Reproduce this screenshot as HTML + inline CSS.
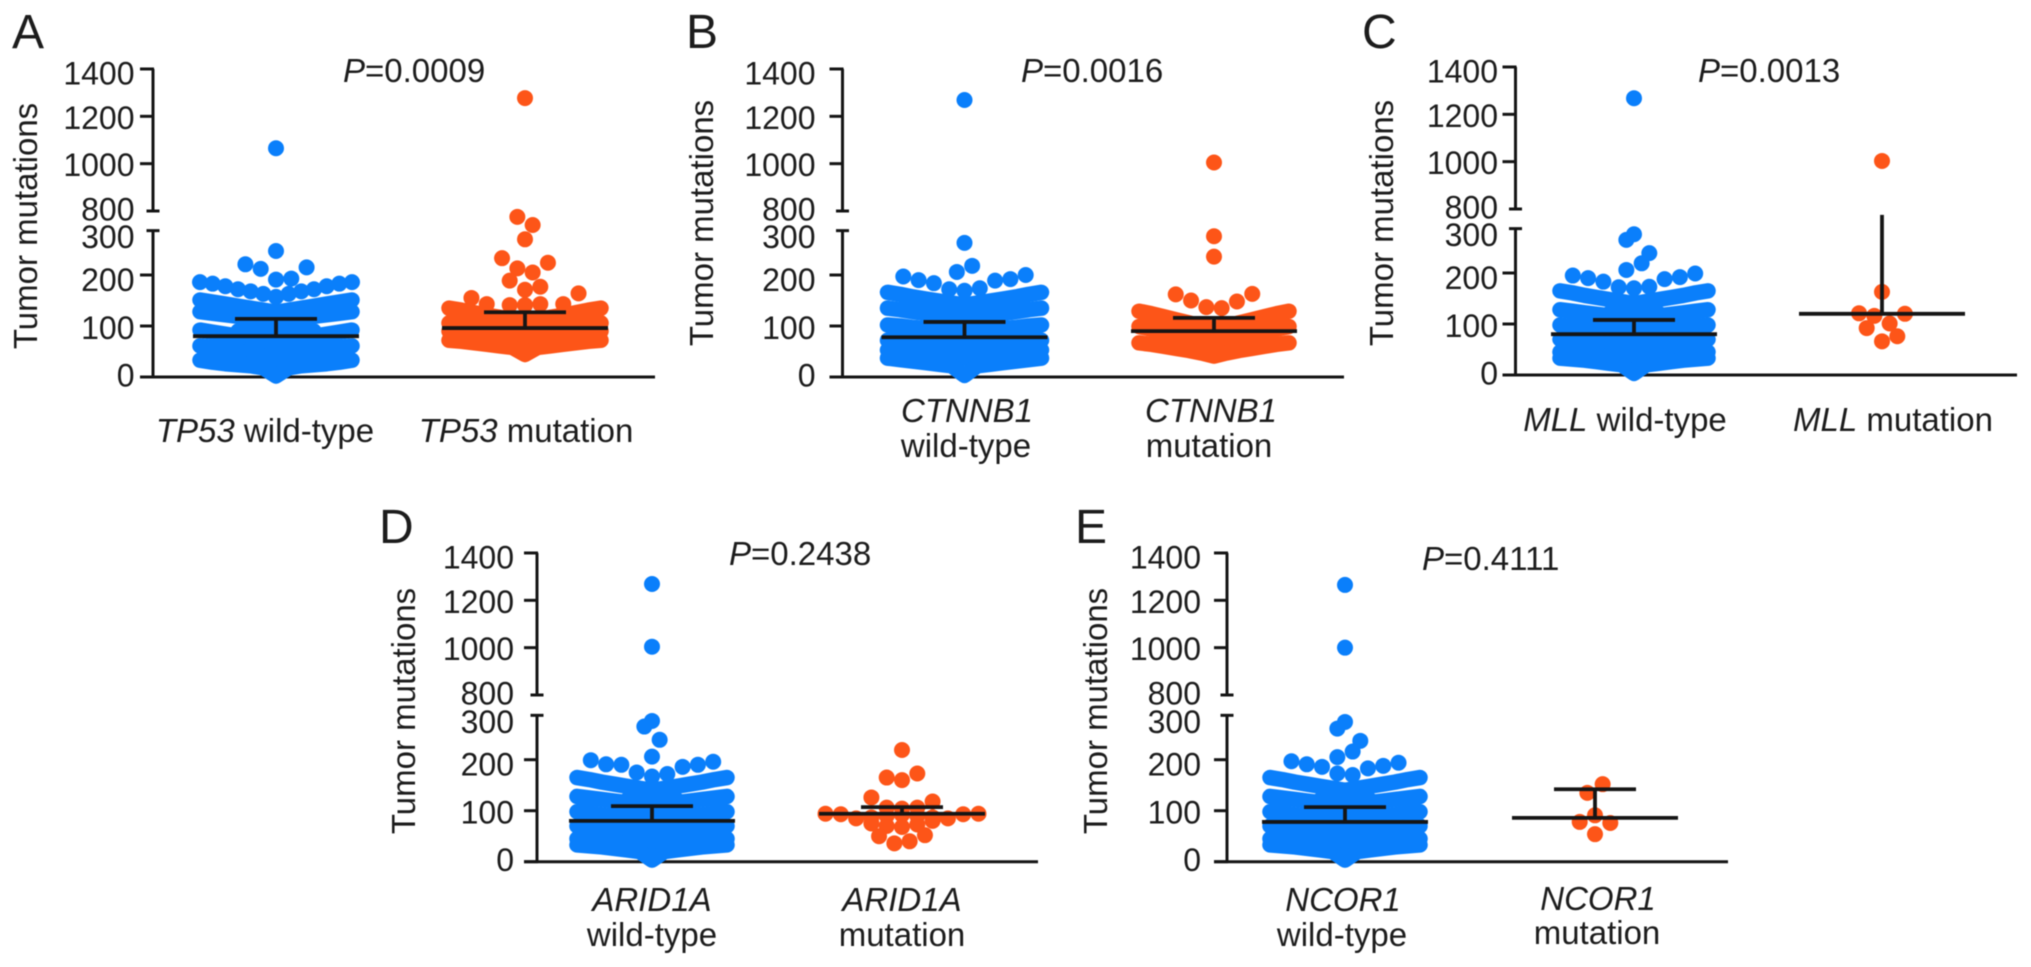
<!DOCTYPE html>
<html lang="en">
<head>
<meta charset="utf-8">
<title>Tumor mutations by gene mutation status</title>
<style>
html,body{margin:0;padding:0;background:#fff;width:2031px;height:967px;overflow:hidden}
svg{display:block;filter:blur(.45px)}
text{font-family:"Liberation Sans",Arial,sans-serif;fill:#1c1c1c}
.lbl{font-size:33px}
.tick{font-size:32px}
.letter{font-size:48px}
</style>
</head>
<body>
<svg id="figure" width="2031" height="967" viewBox="0 0 2031 967" xmlns="http://www.w3.org/2000/svg">
  <rect x="0" y="0" width="2031" height="967" fill="#fff"/>

  <g>
    <text class="letter" x="12" y="48">A</text>
    <text class="lbl" x="343" y="82"><tspan font-style="italic">P</tspan>=0.0009</text>
    <text class="lbl" transform="translate(37,226) rotate(-90)" text-anchor="middle">Tumor mutations</text>
    <text class="lbl" x="265" y="442" text-anchor="middle"><tspan font-style="italic">TP53</tspan> wild-type</text>
    <text class="lbl" x="526" y="442" text-anchor="middle"><tspan font-style="italic">TP53</tspan> mutation</text>
  </g>

  <g>
    <text class="letter" x="686" y="48">B</text>
    <text class="lbl" x="1021" y="82"><tspan font-style="italic">P</tspan>=0.0016</text>
    <text class="lbl" transform="translate(713,223) rotate(-90)" text-anchor="middle">Tumor mutations</text>
    <text class="lbl" x="967" y="422" text-anchor="middle" font-style="italic">CTNNB1</text>
    <text class="lbl" x="966" y="457" text-anchor="middle">wild-type</text>
    <text class="lbl" x="1211" y="422" text-anchor="middle" font-style="italic">CTNNB1</text>
    <text class="lbl" x="1209" y="457" text-anchor="middle">mutation</text>
  </g>

  <g>
    <text class="letter" x="1362" y="48">C</text>
    <text class="lbl" x="1698" y="82"><tspan font-style="italic">P</tspan>=0.0013</text>
    <text class="lbl" transform="translate(1393,223) rotate(-90)" text-anchor="middle">Tumor mutations</text>
    <text class="lbl" x="1625" y="431" text-anchor="middle"><tspan font-style="italic">MLL</tspan> wild-type</text>
    <text class="lbl" x="1893" y="431" text-anchor="middle"><tspan font-style="italic">MLL</tspan> mutation</text>
  </g>

  <g>
    <text class="letter" x="379" y="543">D</text>
    <text class="lbl" x="729" y="565"><tspan font-style="italic">P</tspan>=0.2438</text>
    <text class="lbl" transform="translate(415,711) rotate(-90)" text-anchor="middle">Tumor mutations</text>
    <text class="lbl" x="652" y="911" text-anchor="middle" font-style="italic">ARID1A</text>
    <text class="lbl" x="652" y="946" text-anchor="middle">wild-type</text>
    <text class="lbl" x="902" y="911" text-anchor="middle" font-style="italic">ARID1A</text>
    <text class="lbl" x="902" y="946" text-anchor="middle">mutation</text>
  </g>

  <g>
    <text class="letter" x="1075" y="543">E</text>
    <text class="lbl" x="1422" y="570"><tspan font-style="italic">P</tspan>=0.4111</text>
    <text class="lbl" transform="translate(1107,711) rotate(-90)" text-anchor="middle">Tumor mutations</text>
    <text class="lbl" x="1343" y="911" text-anchor="middle" font-style="italic">NCOR1</text>
    <text class="lbl" x="1342" y="946" text-anchor="middle">wild-type</text>
    <text class="lbl" x="1598" y="910" text-anchor="middle" font-style="italic">NCOR1</text>
    <text class="lbl" x="1597" y="944" text-anchor="middle">mutation</text>
  </g>
</svg>

<script>
/* ---------- tick labels ---------- */
const upperTicks = [800, 1000, 1200, 1400];
const lowerTicks = [0, 100, 200, 300];

/* ---------- values: each "mass" row runs centre -> edge of the swarm and is mirrored;
   each "loose" row is read left to right (null = empty swarm slot);
   "high" values are the outliers above the axis break ---------- */

/* Panel A - TP53 */
const aWildHigh = [1065];
const aWildLoose = [[247], [221, 212, null, null, 215], [null, 191, 193]];
const aWildDotRows = [[157, 163, 168, 172, 178, 183, 186]];
const aWildMass = [
  [127, 131, 135, 139, 143, 147, 151],
  [110, 113, 116, 119, 122, 125, 128],
  [96, 94, 92, 90],
  [64, 70, 75, 80, 84, 88, 92],
  [52, 54, 56],
  [36, 41, 46, 50, 54, 58, 61],
  [20, 24, 27],
  [2, 18, 22, 24, 26, 29, 33]
];
const aWildMean = 80;
const aWildUpper = 114;

const aMutHigh = [1277];
const aMutLoose = [
  [270], [314, 298], [233, 213, 205, 224], [189, null, null], [null, 171, 177],
  [155, null, null, null, null, null, null, 164],
  [143, null, null, null, null, 143], [141, 141, 143]
];
const aMutMass = [
  [110, 113, 117, 121, 126, 131, 135],
  [84, 88, 92, 96, 100, 103, 106],
  [67, 71, 75, 79, 83, 87, 90],
  [44, 58, 61, 64, 67, 70, 72]
];
const aMutMean = 96;
const aMutUpper = 127;

/* Panel B - CTNNB1 */
const bWildHigh = [1269];
const bWildLoose = [[263], [206, 218], [197, 190, 184, 172, 169, 174, 189, 192, 200]];
const bWildMass = [
  [141, 145, 149, 153, 157, 162, 166],
  [114, 118, 121, 125, 128, 132, 135],
  [88, 90, 93, 95, 97, 100, 102],
  [63, 65, 67, 69, 70, 71, 72],
  [37, 40, 43, 46, 49, 51, 53],
  [3, 22, 25, 28, 31, 34, 37]
];
const bWildMean = 78;
const bWildUpper = 108;

const bMutHigh = [1005];
const bMutLoose = [[276], [236], [162, 150, 137, 135, 148, 163]];
const bMutMass = [
  [96, 100, 106, 112, 118, 124, 129],
  [69, 74, 79, 84, 89, 94, 99],
  [58, 60, 62],
  [41, 47, 52, 56, 60, 64, 67]
];
const bMutMean = 90;
const bMutUpper = 116;

/* Panel C - MLL */
const cWildHigh = [1268];
const cWildLoose = [[276], [265, null], [null, null, 239], [206, 219], [195, 190, 183, 172, 170, 173, 188, 192, 199]];
const cWildMean = 80;
const cWildUpper = 108;

const cMutHigh = [1003];
const cMutLoose = [[163], [121, 116, null, 120], [92, null, null], [null, 101], [null, null, 76], [66]];
const cMutMean = 120;
const cMutUpper = 314;

/* Panel D - ARID1A */
const dWildHigh = [1269, 1004];
const dWildLoose = [[276], [265, null], [null, 239], [206], [199, 191, 190, 175, 167, 172, 186, 190, 196]];
const dWildMean = 80;
const dWildUpper = 109;

const dMutLoose = [
  [219], [165, 160, 173], [126, null, null, null, 118], [106, 104, 106],
  [94, 93, 85, 87, 90, 92, 90, 87, 85, 93, 94],
  [75, 70, 68, 73, 80], [50, null, null, 52], [36, 40]
];
const dMutMean = 94;
const dMutUpper = 107;

/* Panel E - NCOR1 */
const eWildHigh = [1265, 1000];
const eWildLoose = [[274], [261, null], [null, null, 237], [205, 216], [197, 191, 186, 173, 170, 183, 188, 194]];
const eWildMean = 78;
const eWildUpper = 107;

const eMutLoose = [[135, 152], [91], [78, null, 76], [54]];
const eMutMean = 86;
const eMutUpper = 142;

/* Wild-type swarm body shared by panels C, D and E */
const sharedWildMass = [
  [140, 144, 148, 152, 156, 161, 165],
  [125, 123, 121],
  [110, 113, 116, 119, 122, 125, 128],
  [95, 93, 91],
  [80, 83, 86, 89, 92, 95, 98],
  [67, 66, 65],
  [55, 57, 60, 62, 65, 68, 70],
  [42, 41, 40],
  [30, 33, 35, 37, 40, 42, 45],
  [3, 20, 23, 26, 29, 31, 33]
];

/* ---------- geometry (not data) ---------- */
const BLUE = '#0a7ffb';
const ORANGE = '#fd5518';
const INK = '#151515';
const SVGNS = 'http://www.w3.org/2000/svg';
const fig = document.getElementById('figure');
const DOT_R = 8;
const BAND_W = 15.5;
const SLOT = 15.3;
const LOW_SCALE = 0.51;
const UP_SCALE = 0.2367;
const CAP_VALUE = 287;

function make(tag, parent) {
  const el = document.createElementNS(SVGNS, tag);
  parent.appendChild(el);
  return el;
}
function yScale(p, v) {
  return v >= 600 ? p.y800 - (v - 800) * UP_SCALE : p.y0 - v * LOW_SCALE;
}
function tickY(p, v) {
  return v === 300 ? yScale(p, CAP_VALUE) : yScale(p, v);
}
function labelShift(v) {
  if (v === 1400) return 4;
  if (v === 800 || v === 0) return -2;
  if (v === 300) return 6;
  if (v === 200) return 4.5;
  if (v === 100) return 1.5;
  return 1;
}
function line(g, x1, y1, x2, y2, w) {
  const l = make('line', g);
  l.setAttribute('x1', x1);
  l.setAttribute('y1', y1);
  l.setAttribute('x2', x2);
  l.setAttribute('y2', y2);
  l.setAttribute('stroke', INK);
  l.setAttribute('stroke-width', w);
  return l;
}
function dot(g, x, y, color) {
  const c = make('circle', g);
  c.setAttribute('cx', x);
  c.setAttribute('cy', y);
  c.setAttribute('r', DOT_R);
  c.setAttribute('fill', color);
  return c;
}

function drawAxes(p) {
  const g = make('g', fig);
  
  
  const spine = line(g, p.ax, yScale(p, 1400), p.ax, yScale(p, 800), 3);
  
  
  const spineLow = line(g, p.ax, yScale(p, CAP_VALUE), p.ax, p.y0, 3);
  
  
  const xAxis = line(g, p.ax - 13, p.y0, p.xEnd, p.y0, 3);
  
  
  upperTicks.concat(lowerTicks).forEach(function (v) {
    const y = tickY(p, v);
    const centred = v === 800 || v === 300;
    const t = line(g, centred ? p.ax - 6.5 : p.ax - 13, y, centred ? p.ax + 6.5 : p.ax + 1, y, 3);
    
    
    const label = make('text', g);
    label.setAttribute('class', 'tick');
    label.setAttribute('x', p.ax - p.labelGap);
    label.setAttribute('y', y + labelShift(v) + 11.5);
    label.setAttribute('text-anchor', 'end');
    label.textContent = String(v);
    
    
  });
}

function drawGroup(p, s) {
  const g = make('g', fig);
  
  

  (s.high || []).forEach(function (v) {
    const c = dot(g, s.cx, yScale(p, v), s.color);
    
    
  });
  (s.loose || []).forEach(function (row) {
    row.forEach(function (v, i) {
      if (v === null) return;
      const c = dot(g, s.cx + (i - (row.length - 1) / 2) * SLOT, yScale(p, v), s.color);
      
      
    });
  });
  const step = (s.halfWidth || 75) / 6;
  (s.dotRows || []).forEach(function (row) {
    row.forEach(function (v, i) {
      const c = dot(g, s.cx + i * step, yScale(p, v), s.color);
      
      
      if (i > 0) {
        const m = dot(g, s.cx - i * step, yScale(p, v), s.color);
        
        
      }
    });
  });
  (s.mass || []).forEach(function (row) {
    /* densely packed samples merge into one solid band along the row */
    const pts = [];
    row.forEach(function (v, i) {
      pts.unshift((s.cx - i * step) + ',' + yScale(p, v));
      if (i > 0) pts.push((s.cx + i * step) + ',' + yScale(p, v));
    });
    const band = make('polyline', g);
    band.setAttribute('points', pts.join(' '));
    band.setAttribute('fill', 'none');
    band.setAttribute('stroke', s.color);
    band.setAttribute('stroke-width', BAND_W);
    band.setAttribute('stroke-linecap', 'round');
    band.setAttribute('stroke-linejoin', 'round');
    
    
  });

  const my = yScale(p, s.mean);
  const uy = yScale(p, s.upper);
  const mean = line(g, s.cx - 83, my, s.cx + 83, my, 3.8);
  
  
  const stem = line(g, s.cx, my, s.cx, uy, 3.8);
  
  
  if (!s.noCap) {
    const cap = line(g, s.cx - 41, uy, s.cx + 41, uy, 3.8);
    
    
  }
}

const panels = [
  { id: 'a', ax: 153, y0: 377, y800: 211, xEnd: 655, labelGap: 18.5, groups: [
    { name: 'wild-type', cx: 276, color: BLUE, halfWidth: 76, high: aWildHigh, loose: aWildLoose, dotRows: aWildDotRows, mass: aWildMass, mean: aWildMean, upper: aWildUpper },
    { name: 'mutation', cx: 525, color: ORANGE, halfWidth: 76, high: aMutHigh, loose: aMutLoose, mass: aMutMass, mean: aMutMean, upper: aMutUpper }
  ] },
  { id: 'b', ax: 842.5, y0: 377, y800: 211, xEnd: 1344, labelGap: 27, groups: [
    { name: 'wild-type', cx: 964.5, color: BLUE, halfWidth: 77, high: bWildHigh, loose: bWildLoose, mass: bWildMass, mean: bWildMean, upper: bWildUpper },
    { name: 'mutation', cx: 1214, color: ORANGE, halfWidth: 75, high: bMutHigh, loose: bMutLoose, mass: bMutMass, mean: bMutMean, upper: bMutUpper }
  ] },
  { id: 'c', ax: 1515.5, y0: 375, y800: 209, xEnd: 2017, labelGap: 17.5, groups: [
    { name: 'wild-type', cx: 1634, color: BLUE, halfWidth: 74, high: cWildHigh, loose: cWildLoose, mass: sharedWildMass, mean: cWildMean, upper: cWildUpper },
    { name: 'mutation', cx: 1882, color: ORANGE, high: cMutHigh, loose: cMutLoose, mean: cMutMean, upper: cMutUpper, noCap: true }
  ] },
  { id: 'd', ax: 537, y0: 861.7, y800: 695, xEnd: 1038, labelGap: 23, groups: [
    { name: 'wild-type', cx: 652, color: BLUE, halfWidth: 75, high: dWildHigh, loose: dWildLoose, mass: sharedWildMass, mean: dWildMean, upper: dWildUpper },
    { name: 'mutation', cx: 902, color: ORANGE, loose: dMutLoose, mean: dMutMean, upper: dMutUpper }
  ] },
  { id: 'e', ax: 1227, y0: 861.7, y800: 695, xEnd: 1728, labelGap: 26, groups: [
    { name: 'wild-type', cx: 1345, color: BLUE, halfWidth: 75, high: eWildHigh, loose: eWildLoose, mass: sharedWildMass, mean: eWildMean, upper: eWildUpper },
    { name: 'mutation', cx: 1595, color: ORANGE, loose: eMutLoose, mean: eMutMean, upper: eMutUpper }
  ] }
];

panels.forEach(function (p) {
  drawAxes(p);
  p.groups.forEach(function (s) { drawGroup(p, s); });
});
</script>
</body>
</html>
